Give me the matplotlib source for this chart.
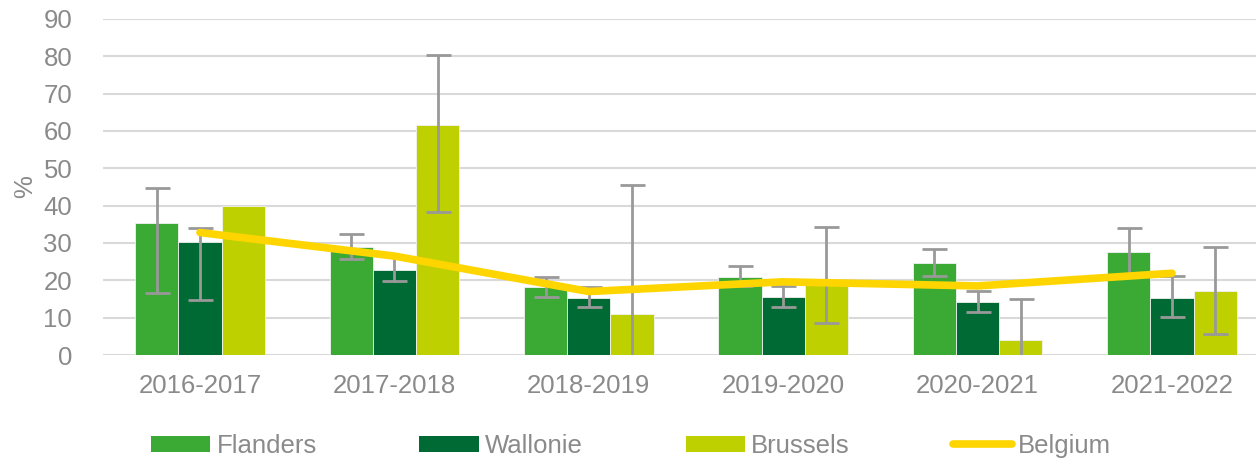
import numpy as np
import matplotlib
matplotlib.use("Agg")
import matplotlib.pyplot as plt
from matplotlib.patches import Patch
from matplotlib.lines import Line2D

plt.rcParams['font.family'] = ['Liberation Sans', 'DejaVu Sans']

# data (None = no error bar shown)
years = ['2016-2017', '2017-2018', '2018-2019', '2019-2020', '2020-2021', '2021-2022']
flanders = [35.3, 28.8, 18.1, 21.0, 24.6, 27.7]
flanders_hi = [44.8, 32.3, 21.0, 23.8, 28.4, 33.9]
flanders_lo = [16.7, 25.7, 15.6, 18.5, 21.2, 21.5]
wallonie = [30.3, 22.9, 15.3, 15.6, 14.1, 15.4]
wallonie_hi = [34.1, 26.5, 18.3, 18.5, 17.1, 21.2]
wallonie_lo = [14.7, 19.9, 12.8, 12.9, 11.6, 10.2]
brussels = [40.0, 61.6, 11.0, 18.8, 4.0, 17.2]
brussels_hi = [None, 80.4, 45.5, 34.3, 15.0, 29.0]
brussels_lo = [None, 38.4, -2.0, 8.7, -2.0, 5.5]
belgium = [32.8, 26.5, 17.0, 19.6, 18.5, 21.9]

c_fla = '#3BAA35'
c_wal = '#006A35'
c_bru = '#BED000'
c_bel = '#FFD500'
c_err = '#999999'
c_txt = '#8A8A8A'
fs = 18.5

fig = plt.figure(figsize=(12.56, 4.61), dpi=100)
ax = fig.add_axes([102.8 / 1256, 106 / 461, 1166.4 / 1256, 336 / 461])

x = np.arange(len(years))
w = 0.222
series = [
    (flanders, flanders_lo, flanders_hi, c_fla, -w),
    (wallonie, wallonie_lo, wallonie_hi, c_wal, 0),
    (brussels, brussels_lo, brussels_hi, c_bru, w),
]
for vals, lo, hi, col, off in series:
    ax.bar(x + off, vals, width=w, color=col, edgecolor='#F2F2F2', linewidth=0.6, zorder=2)
    keep = [i for i in range(len(vals)) if hi[i] is not None]
    v = np.array([vals[i] for i in keep])
    yerr = np.vstack([v - np.array([lo[i] for i in keep]),
                      np.array([hi[i] for i in keep]) - v])
    ax.errorbar(x[keep] + off, v, yerr=yerr, fmt='none', ecolor=c_err, elinewidth=2,
                capsize=9, capthick=2, zorder=3)

ax.plot(x, belgium, color=c_bel, lw=5.5, solid_capstyle='round', zorder=4)

ax.set_xlim(-0.5, len(years) - 0.5)
ax.set_ylim(0, 90)
ax.set_yticks(range(0, 91, 10))
ax.set_xticks(x)
ax.set_xticklabels(years)
ax.tick_params(axis='both', length=0, labelsize=fs, labelcolor=c_txt)
ax.tick_params(axis='y', pad=22)
ax.tick_params(axis='x', pad=14)
ax.grid(axis='y', color='#D9D9D9', lw=1.5, zorder=0)
ax.set_axisbelow(True)
for s in ax.spines.values():
    s.set_visible(False)

fig.text(25 / 1256, 1 - 187 / 461, '%', rotation=90, fontsize=fs, color=c_txt,
         ha='center', va='center')

handles = [
    Patch(facecolor=c_fla, label='Flanders'),
    Patch(facecolor=c_wal, label='Wallonie'),
    Patch(facecolor=c_bru, label='Brussels'),
    Line2D([0], [0], color=c_bel, lw=5.5, solid_capstyle='round', label='Belgium'),
]
leg = fig.legend(handles=handles, loc='center', bbox_to_anchor=(631 / 1256, 1 - 446 / 461),
                 ncol=4, frameon=False, fontsize=fs, handlelength=2.3, handleheight=0.6,
                 handletextpad=0.25, columnspacing=4.0, borderpad=0)
for t in leg.get_texts():
    t.set_color(c_txt)

fig.savefig('out.png', dpi=100)
